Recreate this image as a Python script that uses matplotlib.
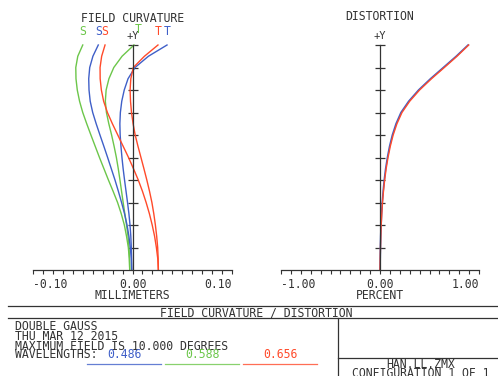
import numpy as np
import matplotlib
matplotlib.use("Agg")
import matplotlib.pyplot as plt

plt.rcParams['font.family'] = ['DejaVu Sans Mono']

# relative field, 0 = axis, 1 = full field (+Y)
field = [0.00, 0.05, 0.10, 0.15, 0.20, 0.25, 0.30, 0.35, 0.40, 0.45, 0.50,
         0.55, 0.60, 0.65, 0.70, 0.75, 0.80, 0.85, 0.90, 0.95, 1.00]

# field curvature, millimeters
s_486 = [-0.0008, -0.0012, -0.0022, -0.0036, -0.0055, -0.0080, -0.0110, -0.0142,
         -0.0176, -0.0213, -0.0250, -0.0288, -0.0327, -0.0365, -0.0400, -0.0425,
         -0.0437, -0.0440, -0.0430, -0.0398, -0.0344]
t_486 = [-0.0008, -0.0009, -0.0012, -0.0017, -0.0025, -0.0036, -0.0050, -0.0065,
         -0.0080, -0.0094, -0.0106, -0.0116, -0.0124, -0.0127, -0.0122, -0.0108,
         -0.0083, -0.0045, 0.0025, 0.0160, 0.0347]
s_588 = [-0.0028, -0.0032, -0.0042, -0.0060, -0.0082, -0.0113, -0.0150, -0.0195,
         -0.0242, -0.0287, -0.0332, -0.0375, -0.0418, -0.0460, -0.0500, -0.0532,
         -0.0555, -0.0568, -0.0570, -0.0550, -0.0500]
t_588 = [-0.0028, -0.0030, -0.0035, -0.0045, -0.0060, -0.0077, -0.0094, -0.0110,
         -0.0126, -0.0143, -0.0162, -0.0185, -0.0210, -0.0238, -0.0262, -0.0273,
         -0.0265, -0.0237, -0.0188, -0.0105, 0.0015]
s_656 = [0.0260, 0.0254, 0.0240, 0.0222, 0.0198, 0.0170, 0.0137, 0.0100,
         0.0058, 0.0010, -0.0040, -0.0094, -0.0148, -0.0202, -0.0252, -0.0290,
         -0.0313, -0.0325, -0.0326, -0.0310, -0.0276]
t_656 = [0.0260, 0.0258, 0.0253, 0.0243, 0.0230, 0.0214, 0.0195, 0.0171,
         0.0144, 0.0115, 0.0085, 0.0055, 0.0027, 0.0006, -0.0010, -0.0020,
         -0.0024, -0.0017, 0.0008, 0.0120, 0.0256]

# distortion, percent
dist_486 = [0.000, 0.002, 0.004, 0.007, 0.011, 0.016, 0.023, 0.032, 0.043, 0.057,
            0.075, 0.097, 0.125, 0.162, 0.212, 0.290, 0.390, 0.510, 0.640, 0.770, 0.890]
dist_656 = [0.000, 0.002, 0.005, 0.008, 0.012, 0.018, 0.025, 0.035, 0.047, 0.062,
            0.081, 0.104, 0.133, 0.171, 0.222, 0.300, 0.400, 0.520, 0.650, 0.778, 0.896]

wavelengths = ['0.486', '0.588', '0.656']
blue = '#3f5fc8'
green = '#6cc64a'
red = '#ff4a2a'
ink = '#333333'

W, H = 498, 376
fig = plt.figure(figsize=(W / 100, H / 100), dpi=100)


def px_axes(x0, y0, x1, y1):
    return fig.add_axes([x0 / W, 1 - y1 / H, (x1 - x0) / W, (y1 - y0) / H])


def setup(ax, xmax):
    ax.set_xlim(-xmax, xmax)
    ax.set_ylim(0, 1)
    ax.patch.set_visible(False)
    ax.spines['top'].set_visible(False)
    ax.spines['right'].set_visible(False)
    ax.spines['left'].set_position(('data', 0))
    for s in ['left', 'bottom']:
        ax.spines[s].set_color(ink)
        ax.spines[s].set_linewidth(0.9)
    ax.set_yticks(np.arange(1, 11) / 10)
    ax.tick_params(axis='y', direction='inout', length=7, width=0.9,
                   color=ink, labelleft=False)
    ax.set_xticks(np.linspace(-xmax, xmax, 21))
    ax.tick_params(axis='x', direction='out', length=3, width=0.8,
                   color=ink, labelbottom=False)
    ax.annotate('+Y', (0, 1), xytext=(0, 3), textcoords='offset points',
                ha='center', va='bottom', fontsize=7.5, color=ink,
                annotation_clip=False)


fs = 8.3

# ---- field curvature
ax1 = px_axes(33, 45, 232, 270)
setup(ax1, 0.10)
for xs, c in [(s_588, green), (t_588, green), (s_486, blue), (t_486, blue),
              (s_656, red), (t_656, red)]:
    ax1.plot(xs, field, color=c, lw=1.0, clip_on=False)
for xs, c, lab in [(s_588, green, 'S'), (s_486, blue, 'S'), (s_656, red, 'S'),
                   (t_588, green, 'T'), (t_656, red, 'T'), (t_486, blue, 'T')]:
    off = (3, 11) if (lab == 'T' and c == green) else (0, 10)
    ax1.annotate(lab, (xs[-1], 1), xytext=off,
                 textcoords='offset points', ha='center', va='center',
                 fontsize=fs, color=c, annotation_clip=False)
ax1.text(-0.10, -0.035, '-0.10', ha='left', va='top', fontsize=fs, color=ink)
ax1.text(0.0, -0.035, '0.00', ha='center', va='top', fontsize=fs, color=ink)
ax1.text(0.10, -0.035, '0.10', ha='right', va='top', fontsize=fs, color=ink)
ax1.text(0.0, -0.085, 'MILLIMETERS', ha='center', va='top', fontsize=fs, color=ink)
fig.text(133 / W, 1 - 18 / H, 'FIELD CURVATURE', ha='center', va='center',
         fontsize=fs, color=ink)

# ---- distortion
ax2 = px_axes(281, 45, 479, 270)
setup(ax2, 1.0)
ax2.plot(dist_486, field, color=blue, lw=1.2, clip_on=False)
ax2.plot(dist_656, field, color=red, lw=1.0, clip_on=False)
ax2.text(-1.0, -0.035, '-1.00', ha='left', va='top', fontsize=fs, color=ink)
ax2.text(0.0, -0.035, '0.00', ha='center', va='top', fontsize=fs, color=ink)
ax2.text(1.0, -0.035, '1.00', ha='right', va='top', fontsize=fs, color=ink)
ax2.text(0.0, -0.085, 'PERCENT', ha='center', va='top', fontsize=fs, color=ink)
fig.text(380 / W, 1 - 17 / H, 'DISTORTION', ha='center', va='center',
         fontsize=fs, color=ink)

# ---- title block
def hline(y, x0, x1, **kw):
    fig.add_artist(plt.Line2D([x0 / W, x1 / W], [1 - y / H, 1 - y / H], **kw))


def vline(x, y0, y1, **kw):
    fig.add_artist(plt.Line2D([x / W, x / W], [1 - y0 / H, 1 - y1 / H], **kw))


hline(306, 8, 498, color=ink, lw=0.9)
hline(318, 8, 498, color=ink, lw=0.9)
vline(338, 318, 376, color=ink, lw=0.9)
hline(358, 338, 498, color=ink, lw=0.9)

fig.text(256 / W, 1 - 312.5 / H, 'FIELD CURVATURE / DISTORTION', ha='center',
         va='center', fontsize=fs, color=ink)
info = ['DOUBLE GAUSS', 'THU MAR 12 2015', 'MAXIMUM FIELD IS 10.000 DEGREES']
fig.text(15 / W, 1 - 320 / H, '\n'.join(info), ha='left', va='top',
         fontsize=fs, color=ink, linespacing=0.68)
fig.text(15 / W, 1 - 355 / H, 'WAVELENGTHS:', ha='left', va='center',
         fontsize=fs, color=ink)
for i, (wl, c) in enumerate(zip(wavelengths, [blue, green, red])):
    cx = 124.5 + 78 * i
    fig.text(cx / W, 1 - 355 / H, wl, ha='center', va='center', fontsize=fs,
             color=c)
    hline(363.5, cx - 38, cx + 36, color=c, lw=0.9, alpha=0.8)

fig.text(421 / W, 1 - 364 / H, 'HAN.LL.ZMX', ha='center', va='center',
         fontsize=fs, color=ink)
fig.text(421 / W, 1 - 373.5 / H, 'CONFIGURATION 1 OF 1', ha='center',
         va='center', fontsize=fs, color=ink)

fig.savefig('out.png', dpi=100)
